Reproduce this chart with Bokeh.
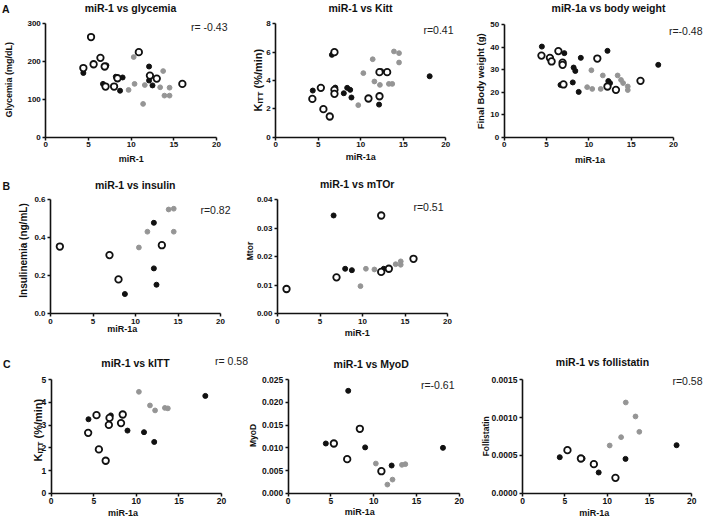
import math
from bokeh.plotting import figure
from bokeh.layouts import column, row
from bokeh.models import Label, NumeralTickFormatter, FixedTicker, Range1d
from bokeh.embed import file_html
from bokeh.resources import INLINE

FONT = "Liberation Sans"
GRAY = "#959595"
DARK = "#111111"
X_TICKS = [0, 5, 10, 15, 20]

# ---------------- data ----------------
# A1: miR-1 vs glycemia
a1_open_x = [4.4, 5.3, 5.6, 6.4, 6.9, 7.0, 8.0, 8.4, 10.9, 12.2, 13.0, 16.0]
a1_open_y = [183, 265, 193, 210, 187, 134, 134, 156, 225, 163, 155, 141]
a1_fill_x = [4.4, 6.7, 7.1, 8.2, 8.7, 9.0, 12.1, 12.1, 12.5]
a1_fill_y = [170, 141, 190, 160, 123, 158, 187, 150, 137]
a1_gray_x = [9.7, 10.3, 10.4, 11.4, 11.6, 13.4, 13.75, 13.9, 14.5, 14.5]
a1_gray_y = [125, 212, 141, 88, 138, 132, 175, 110, 131, 110]

# A2: miR-1 vs Kitt
a2_open_x = [4.3, 5.3, 5.6, 6.35, 6.9, 6.9, 6.9, 10.9, 12.2, 12.2, 13.1]
a2_open_y = [2.7, 3.48, 1.98, 1.46, 3.34, 3.06, 6.0, 2.73, 4.59, 2.89, 4.59]
a2_fill_x = [4.35, 6.6, 7.0, 8.0, 8.4, 8.75, 8.9, 12.15, 12.4, 18.1]
a2_fill_y = [3.29, 5.81, 3.5, 3.1, 3.48, 3.34, 2.8, 2.3, 4.66, 4.3]
a2_gray_x = [9.7, 10.3, 11.4, 11.6, 12.25, 13.3, 13.7, 13.9, 14.5, 14.5]
a2_gray_y = [2.26, 4.52, 5.5, 3.93, 3.69, 3.76, 3.76, 6.05, 5.93, 5.27]

# A3: miR-1a vs body weight
a3_open_x = [4.4, 5.4, 5.6, 6.4, 6.9, 6.9, 7.0, 11.0, 12.2, 13.2, 16.1]
a3_open_y = [36.2, 35.2, 33.6, 38.2, 33.1, 32.1, 23.4, 34.9, 22.5, 21.0, 25.0]
a3_fill_x = [4.45, 6.65, 7.1, 8.1, 8.2, 8.4, 8.8, 9.05, 12.2, 12.3, 12.5, 18.2]
a3_fill_y = [40.2, 23.2, 37.3, 24.3, 30.9, 29.4, 20.1, 35.2, 38.3, 24.9, 24.0, 32.1]
a3_gray_x = [9.8, 10.3, 10.4, 11.4, 11.65, 13.4, 13.8, 14.05, 14.6, 14.6]
a3_gray_y = [22.2, 29.7, 21.4, 21.4, 27.4, 27.4, 25.4, 24.0, 22.5, 20.9]

# B1: miR-1 vs insulin
b1_open_x = [1.1, 6.94, 8.0, 13.1]
b1_open_y = [0.354, 0.309, 0.181, 0.361]
b1_fill_x = [8.75, 12.16, 12.16, 12.47]
b1_fill_y = [0.104, 0.479, 0.239, 0.153]
b1_gray_x = [10.4, 11.4, 13.9, 14.5, 14.5]
b1_gray_y = [0.349, 0.432, 0.549, 0.553, 0.432]

# B2: miR-1 vs mTOr
b2_open_x = [1.06, 6.94, 12.2, 12.2, 13.1, 16.0]
b2_open_y = [0.0087, 0.0128, 0.0345, 0.0147, 0.0158, 0.0193]
b2_fill_x = [6.6, 7.96, 8.75, 12.5]
b2_fill_y = [0.0345, 0.0158, 0.0153, 0.0158]
b2_gray_x = [9.76, 10.4, 11.4, 13.9, 14.5, 14.5]
b2_gray_y = [0.0097, 0.0158, 0.01555, 0.0174, 0.0184, 0.0172]

# C1: miR-1 vs kITT
c1_open_x = [4.34, 5.32, 5.6, 6.4, 6.85, 6.77, 8.2, 8.4]
c1_open_y = [2.66, 3.44, 1.93, 1.43, 3.32, 3.01, 3.09, 3.47]
c1_fill_x = [4.38, 7.0, 8.96, 10.9, 12.1, 18.1]
c1_fill_y = [3.26, 3.43, 2.76, 2.69, 2.26, 4.29]
c1_gray_x = [10.3, 11.6, 12.2, 13.35, 13.7]
c1_gray_y = [4.47, 3.87, 3.65, 3.76, 3.74]

# C2: miR-1 vs MyoD
c2_open_x = [5.34, 6.9, 8.38, 10.9]
c2_open_y = [0.01096, 0.0075, 0.0142, 0.00485]
c2_fill_x = [4.4, 7.02, 9.0, 12.1, 18.1]
c2_fill_y = [0.01096, 0.02257, 0.0101, 0.0061, 0.0100]
c2_gray_x = [10.25, 11.6, 12.2, 13.3, 13.7]
c2_gray_y = [0.00654, 0.0019, 0.0030, 0.00625, 0.0064]

# C3: miR-1 vs follistatin
c3_open_x = [5.31, 6.9, 8.43, 10.98]
c3_open_y = [0.000569, 0.000459, 0.000384, 0.000203]
c3_fill_x = [4.4, 7.1, 9.0, 12.17, 18.2]
c3_fill_y = [0.000476, 0.000459, 0.000274, 0.000454, 0.000635]
c3_gray_x = [10.3, 11.65, 12.2, 13.35, 13.8]
c3_gray_y = [0.000631, 0.000741, 0.0012, 0.001015, 0.000812]


# ---------------- layout helpers ----------------
class Panel:
    def __init__(self, canvas, axis_box, ymax, yticks, yfmt, tick_fs):
        cl, ct, W, H = canvas
        x0, x20, yt, y0 = axis_box
        ux = (x20 - x0) / 20.0
        uy = (y0 - yt) / ymax
        left = x0 - cl
        base = y0 - ct
        xr = Range1d(-left / ux, (W - left) / ux)
        yr = Range1d(-(H - base) / uy, base / uy)
        p = figure(width=W, height=H, x_range=xr, y_range=yr,
                   min_border=0, min_border_left=0, min_border_right=0,
                   min_border_top=0, min_border_bottom=0,
                   output_backend="svg", toolbar_location=None)
        p.outline_line_color = None
        p.grid.visible = False
        p.xaxis.ticker = FixedTicker(ticks=X_TICKS)
        p.yaxis.ticker = FixedTicker(ticks=yticks)
        if yfmt:
            p.yaxis.formatter = NumeralTickFormatter(format=yfmt)
        p.xaxis.bounds = (0, 20)
        p.yaxis.bounds = (0, ymax)
        p.xaxis.fixed_location = 0
        p.yaxis.fixed_location = 0
        for ax in (p.xaxis[0], p.yaxis[0]):
            ax.axis_line_width = 1.6
            ax.axis_line_color = DARK
            ax.major_tick_line_width = 1.5
            ax.major_tick_line_color = DARK
            ax.major_tick_out = 3
            ax.major_tick_in = 0
            ax.minor_tick_out = 0
            ax.minor_tick_in = 0
            ax.major_label_text_font = FONT
            ax.major_label_text_font_style = "bold"
            ax.major_label_text_font_size = tick_fs
            ax.major_label_text_color = DARK
            ax.major_label_standoff = 2
        self.p, self.cl, self.ct, self.H = p, cl, ct, H

    def text(self, xr, yr, text, size, bold=True, align="center", baseline="middle",
             angle=0.0, color=DARK):
        self.p.add_layout(Label(x=xr - self.cl, y=self.ct + self.H - yr,
                                x_units="screen", y_units="screen", text=text,
                                text_font=FONT, text_font_size=size,
                                text_font_style="bold" if bold else "normal",
                                text_align=align, text_baseline=baseline,
                                angle=angle, text_color=color))

    def points(self, ox, oy, fx, fy, gx, gy):
        self.p.scatter(gx, gy, size=4.8, color=GRAY)
        self.p.scatter(fx, fy, size=5, color=DARK)
        self.p.scatter(ox, oy, size=6.5, fill_color="white", line_color=DARK, line_width=1.8)

    def kitt(self, xc, yc):
        """rotated y label K_ITT (%/min), centre given in page pixels"""
        a = math.pi / 2
        x = xc - self.cl + 3.9
        y = self.ct + self.H - yc - 31
        for dx, dy, t, fs in ((0, 0, "K", "11px"), (2.2, 7.9, "ITT", "8px"),
                              (0, 23, "(%/min)", "11px")):
            self.p.add_layout(Label(x=x + dx, y=y + dy, x_units="screen", y_units="screen",
                                    text=t, text_font=FONT, text_font_size=fs,
                                    text_font_style="bold", text_align="left",
                                    text_baseline="alphabetic", angle=a, text_color=DARK))


VERT = math.pi / 2
TFS = "10.5px"
RC = "#222222"

# ---- row A ----
A1 = Panel((0, 0, 236, 170), (45.3, 216, 23.3, 136.7), 300, [0, 100, 200, 300], None, "8px")
A1.points(a1_open_x, a1_open_y, a1_fill_x, a1_fill_y, a1_gray_x, a1_gray_y)
A1.text(130, 7.2, "miR-1 vs glycemia", TFS)
A1.text(1.5, 2.5, "A", TFS, align="left", baseline="top")
A1.text(227, 26.7, "r= -0.43", TFS, bold=False, align="right", color=RC)
A1.text(130.8, 158.3, "miR-1", "9px")
A1.text(8.5, 79.2, "Glycemia (mg/dL)", "9px", angle=VERT)

A2 = Panel((236, 0, 236, 170), (275.3, 445.3, 23.3, 136.7), 8, [0, 2, 4, 6, 8], None, "8px")
A2.points(a2_open_x, a2_open_y, a2_fill_x, a2_fill_y, a2_gray_x, a2_gray_y)
A2.text(360, 7.5, "miR-1 vs Kitt", TFS)
A2.text(453, 29.3, "r=0.41", TFS, bold=False, align="right", color=RC)
A2.text(360.3, 156.7, "miR-1a", "9px")
A2.kitt(254, 80)

A3 = Panel((472, 0, 236, 170), (503.7, 673, 24, 136.7), 50, [0, 10, 20, 30, 40, 50], None, "8px")
A3.points(a3_open_x, a3_open_y, a3_fill_x, a3_fill_y, a3_gray_x, a3_gray_y)
A3.text(608, 7.2, "miR-1a vs body weight", TFS)
A3.text(702, 30.7, "r=-0.48", TFS, bold=False, align="right", color=RC)
A3.text(589.5, 159.3, "miR-1a", "9px")
A3.text(479.5, 80.8, "Final Body weight (g)", "9.5px", angle=VERT)

# ---- row B ----
B1 = Panel((0, 170, 236, 175), (50, 220, 199.3, 313.3), 0.6, [0, 0.2, 0.4, 0.6], "0.0", "8px")
B1.points(b1_open_x, b1_open_y, b1_fill_x, b1_fill_y, b1_gray_x, b1_gray_y)
B1.text(134.7, 184, "miR-1 vs insulin", TFS)
B1.text(2, 179.5, "B", TFS, align="left", baseline="top")
B1.text(230, 209, "r=0.82", TFS, bold=False, align="right", color=RC)
B1.text(121.7, 328.3, "miR-1a", "9px")
B1.text(23.3, 250, "Insulinemia (ng/mL)", "10px", angle=VERT)

B2 = Panel((236, 170, 236, 175), (277, 447, 199.3, 313.3), 0.04, [0, 0.01, 0.02, 0.03, 0.04], "0.00", "8px")
B2.points(b2_open_x, b2_open_y, b2_fill_x, b2_fill_y, b2_gray_x, b2_gray_y)
B2.text(356.7, 183.3, "miR-1 vs mTOr", TFS)
B2.text(443, 206, "r=0.51", TFS, bold=False, align="right", color=RC)
B2.text(356.8, 332.7, "miR-1", "9px")
B2.text(249, 250.5, "Mtor", "8.5px", angle=VERT)

# ---- row C ----
C1 = Panel((0, 345, 248, 174), (50.7, 221, 379.3, 492.7), 5, [0, 1, 2, 3, 4, 5], None, "8.5px")
C1.points(c1_open_x, c1_open_y, c1_fill_x, c1_fill_y, c1_gray_x, c1_gray_y)
C1.text(135, 362.3, "miR-1 vs kITT", TFS)
C1.text(2.5, 357.5, "C", TFS, align="left", baseline="top")
C1.text(247.5, 360, "r= 0.58", TFS, bold=False, align="right", color=RC)
C1.text(122.5, 512, "miR-1a", "9px")
C1.kitt(33.5, 430)

C2 = Panel((248, 345, 224, 174), (287.7, 458.7, 379.3, 492.7), 0.025,
           [0, 0.005, 0.01, 0.015, 0.02, 0.025], "0.000", "8.5px")
C2.points(c2_open_x, c2_open_y, c2_fill_x, c2_fill_y, c2_gray_x, c2_gray_y)
C2.text(370.7, 363.3, "miR-1 vs MyoD", TFS)
C2.text(454, 384.3, "r=-0.61", TFS, bold=False, align="right", color=RC)
C2.text(359.3, 511.5, "miR-1a", "9px")
C2.text(252.5, 435, "MyoD", "8.5px", angle=VERT)

C3 = Panel((472, 345, 236, 174), (522, 691.3, 379.3, 492.7), 0.0015,
           [0, 0.0005, 0.001, 0.0015], "0.0000", "8.5px")
C3.points(c3_open_x, c3_open_y, c3_fill_x, c3_fill_y, c3_gray_x, c3_gray_y)
C3.text(602, 361, "miR-1 vs follistatin", TFS)
C3.text(702, 380, "r=0.58", TFS, bold=False, align="right", color=RC)
C3.text(593.7, 512, "miR-1a", "9px")
C3.text(485.3, 435.8, "Follistatin", "8.5px", angle=VERT)

layout = column(row(A1.p, A2.p, A3.p), row(B1.p, B2.p), row(C1.p, C2.p, C3.p))

open("out.html", "w").write(file_html(layout, INLINE))
